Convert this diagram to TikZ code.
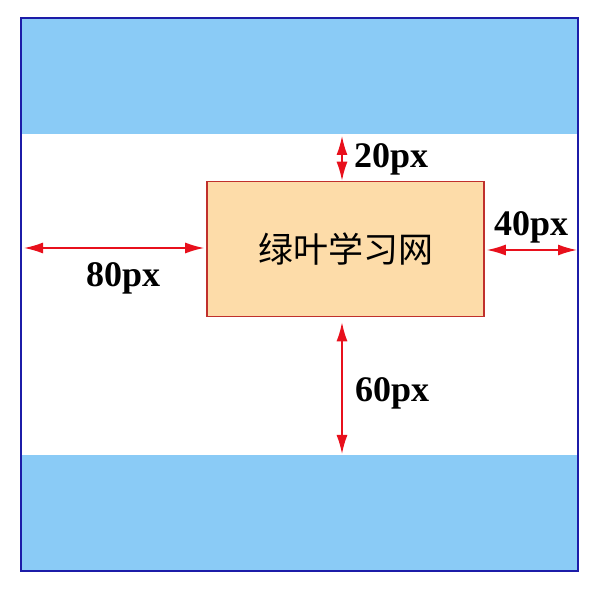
\documentclass[tikz,border=0pt]{standalone}
\usepackage{fontspec}
\setmainfont{Liberation Serif}
\newfontfamily\cjk{Noto Sans CJK SC}
\usepackage{tikz}
\usetikzlibrary{positioning,arrows.meta,calc}

\definecolor{bandblue}{HTML}{8ACBF6}
\definecolor{frameblue}{HTML}{1C1CA8}
\definecolor{boxfill}{HTML}{FDDCA9}
\definecolor{boxline}{HTML}{C0302C}
\definecolor{arrowred}{HTML}{E8101C}

\begin{document}
\begin{tikzpicture}[x=1pt, y=-1pt,
    band/.style = {fill=bandblue, draw=none},
    margin/.style = {draw=arrowred, line width=1.6pt, {Latex[length=19pt,width=11pt]}-{Latex[length=19pt,width=11pt]}},
    lbl/.style = {font=\fontsize{36}{36}\selectfont\bfseries, anchor=base west, inner sep=0pt}]
    \useasboundingbox (0,0) rectangle (614,593);
    \fill[white] (0,0) rectangle (614,593);
    % blue bands and frame
    \fill[band] (21,18) rectangle (578,134);
    \fill[band] (21,455) rectangle (578,571);
    \draw[frameblue, line width=2pt] (21,18) rectangle (578,571);
    % the box
    \node[draw=boxline, fill=boxfill, line width=1.6pt, minimum width=277pt, minimum height=135pt,
          inner sep=0pt, font=\cjk\fontsize{35}{35}\selectfont] (box) at (345.5,249) {绿叶学习网};
    % arrow ends
    \coordinate (t1) at (342,136);
    \coordinate (t2) at (box.north -| t1);
    \coordinate (l1) at (24,248);
    \coordinate (l2) at ($(box.west |- l1)+(-2,0)$);
    \coordinate (r2) at (577,250);
    \coordinate (r1) at ($(box.east |- r2)+(2,0)$);
    \coordinate (b2) at (342,454);
    \coordinate (b1) at ($(box.south -| b2)+(0,5)$);
    \draw[margin] (t1) -- (t2);
    \draw[margin] (l1) -- (l2);
    \draw[margin] (r1) -- (r2);
    \draw[margin] (b1) -- (b2);
    % labels
    \node[lbl] (top) at (354,168) {20px};
    \node[lbl] (right) at (494,236) {40px};
    \node[lbl] (left) at (86,287) {80px};
    \node[lbl] (bottom) at (355,402) {60px};
\end{tikzpicture}
\end{document}
